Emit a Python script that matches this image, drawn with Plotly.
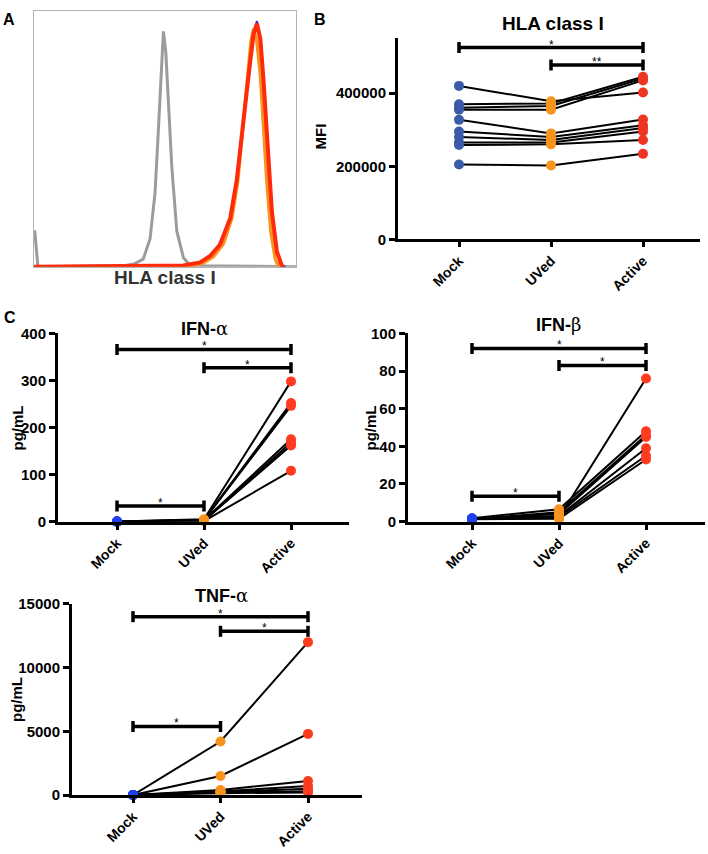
import plotly.graph_objects as go

W, H = 708, 854

def fx(p):
    return p / W

def fy(p):
    return 1 - p / H

FONT = "Liberation Sans, Arial, sans-serif"
categories = ["Mock", "UVed", "Active"]
cat_pos = [0, 1, 2]

# ---------------- Panel A: histogram overlay (normalised fluorescence / % of max)
gray_x = [0, 0.3, 1.5, 34.1, 37.9, 41.7, 44.3, 46.2, 47.4, 48.5, 49.4, 50.3, 51.3, 52.6, 54.5, 57.0, 59.6, 100]
gray_y = [14, 13.8, 0, 0.4, 1, 3, 11, 29, 52, 75, 92, 84, 65, 39, 14, 3.6, 0.4, 0]

blue_x = [0, 57.0, 63.4, 67.2, 71.0, 74.9, 77.4, 78.7, 80.6, 82.5, 83.8, 85.1, 86.4, 87.6, 88.9, 90.8, 92.7, 94.6, 96.0]
blue_y = [0, 0.5, 1.5, 4.0, 8.5, 19, 34, 47, 63, 80, 92, 96, 89, 72, 50, 21, 6, 0.4, 0]

orange_x = [0, 58.3, 64.7, 68.5, 72.3, 75.5, 77.7, 79.0, 80.6, 81.9, 82.8, 83.8, 85.1, 86.4, 87.6, 88.9, 90.4, 92.1, 93.4]
orange_y = [0, 0, 1.5, 4, 9, 19, 33, 46, 62, 78, 88, 93, 88, 75, 55, 33, 14, 3, 0]

red_x = [0, 57.0, 63.4, 67.2, 71.0, 74.9, 77.4, 78.7, 80.6, 82.5, 83.8, 85.1, 86.4, 87.6, 88.9, 90.8, 92.7, 94.6, 95.5]
red_y = [0, 0.5, 1.7, 4.2, 8.7, 19, 34, 47, 63, 80, 91, 95, 89, 73, 50, 21.5, 6, 0.4, 0]

# ---------------- Panel B: HLA class I MFI
hla_mock = [420000, 370000, 360000, 355000, 327000, 295000, 280000, 265000, 258000, 205000]
hla_uved = [378000, 372000, 365000, 355000, 290000, 280000, 272000, 265000, 260000, 202000]
hla_active = [402000, 445000, 440000, 435000, 328000, 312000, 305000, 295000, 272000, 234000]
hla_sig = [(0, 2, 525000, "*"), (1, 2, 477000, "**")]

# ---------------- Panel C: cytokines
ifna_mock = [0, 0, 0, 0, 0, 0, 0]
ifna_uved = [5, 4, 3, 3, 2, 2, 1]
ifna_active = [298, 252, 246, 175, 168, 162, 108]
ifna_sig = [(0, 2, 366, "*"), (1, 2, 327, "*"), (0, 1, 33, "*")]

ifnb_mock = [1.5, 1.8, 1.2, 1.6, 1.4, 1.5, 1.3]
ifnb_uved = [2.0, 6.5, 5.0, 4.0, 3.0, 2.5, 1.5]
ifnb_active = [76, 48, 46, 45, 39, 35, 33]
ifnb_sig = [(0, 2, 92, "*"), (1, 2, 83, "*"), (0, 1, 13.5, "*")]

tnf_mock = [0, 0, 0, 0, 0, 0, 0]
tnf_uved = [4200, 1500, 400, 300, 250, 200, 150]
tnf_active = [12000, 4800, 1100, 700, 500, 300, 200]
tnf_sig = [(0, 2, 14000, "*"), (1, 2, 12850, "*"), (0, 1, 5380, "*")]

fig = go.Figure()

# ---------- Panel A traces
for xs, ys, col, wd in [(gray_x, gray_y, "#9b9b9b", 3), (blue_x, blue_y, "#2a2ae0", 2),
                        (orange_x, orange_y, "#f7941d", 3.5), (red_x, red_y, "#ff2a0a", 4)]:
    fig.add_trace(go.Scatter(x=xs, y=ys, mode="lines", line=dict(color=col, width=wd),
                             xaxis="x", yaxis="y", showlegend=False, hoverinfo="skip"))

panels = [
    dict(key="2", mock=hla_mock, uved=hla_uved, active=hla_active, sig=hla_sig,
         blue="#3b5aa8", red="#ee3524", xl=398, x0=459, sp=92, xr=700, yb=235, yt=30, ymax=550000,
         tickvals=[0, 200000, 400000]),
    dict(key="3", mock=ifna_mock, uved=ifna_uved, active=ifna_active, sig=ifna_sig,
         blue="#1f3ff0", red="#ff3b1f", xl=58, x0=117, sp=87, xr=349, yb=523, yt=331, ymax=400,
         tickvals=[0, 100, 200, 300, 400]),
    dict(key="4", mock=ifnb_mock, uved=ifnb_uved, active=ifnb_active, sig=ifnb_sig,
         blue="#1f3ff0", red="#ff3b1f", xl=408, x0=472, sp=87, xr=705, yb=523, yt=331, ymax=100,
         tickvals=[0, 20, 40, 60, 80, 100]),
    dict(key="5", mock=tnf_mock, uved=tnf_uved, active=tnf_active, sig=tnf_sig,
         blue="#1f3ff0", red="#ff3b1f", xl=72, x0=133, sp=87.5, xr=362, yb=802, yt=607, ymax=15000,
         tickvals=[0, 5000, 10000, 15000]),
]

shapes = []
annotations = []
layout = dict(
    width=W, height=H, autosize=False,
    margin=dict(l=0, r=0, t=0, b=0),
    paper_bgcolor="white", plot_bgcolor="white",
    showlegend=False,
    font=dict(family=FONT, color="black"),
)

layout["xaxis"] = dict(domain=[fx(34), fx(296)], range=[0, 100], showline=True, mirror=True,
                       linecolor="#b3b3b3", linewidth=1, showgrid=False, zeroline=False,
                       showticklabels=False, ticks="", fixedrange=True)
layout["yaxis"] = dict(domain=[fy(263), fy(2)], range=[0, 100], showline=True, mirror=True,
                       linecolor="#b3b3b3", linewidth=1, showgrid=False, zeroline=False,
                       showticklabels=False, ticks="", fixedrange=True)

for p in panels:
    k = p["key"]
    xa, ya = "x" + k, "y" + k
    n = len(p["mock"])
    for i in range(n):
        fig.add_trace(go.Scatter(x=cat_pos, y=[p["mock"][i], p["uved"][i], p["active"][i]],
                                 mode="lines", line=dict(color="black", width=2),
                                 xaxis=xa, yaxis=ya, showlegend=False, hoverinfo="skip",
                                 cliponaxis=False))
    for ci, vals, col in [(0, p["mock"], p["blue"]), (1, p["uved"], "#f7941d"), (2, p["active"], p["red"])]:
        fig.add_trace(go.Scatter(x=[cat_pos[ci]] * len(vals), y=vals, mode="markers",
                                 marker=dict(color=col, size=10, line=dict(width=0)),
                                 xaxis=xa, yaxis=ya, showlegend=False, cliponaxis=False))
    xmin = (p["xl"] - p["x0"]) / p["sp"]
    xmax = (p["xr"] - p["x0"]) / p["sp"]
    layout["xaxis" + k] = dict(domain=[fx(p["xl"]), fx(p["xr"])], range=[xmin, xmax],
                               anchor=ya, showline=True, linecolor="black", linewidth=3,
                               showgrid=False, zeroline=False, ticks="outside", ticklen=5,
                               tickwidth=3, tickcolor="black", tickvals=cat_pos, ticktext=categories,
                               tickangle=-45, tickfont=dict(size=14, weight="bold", family=FONT),
                               fixedrange=True)
    layout["yaxis" + k] = dict(domain=[fy(p["yb"]), fy(p["yt"])], range=[0, p["ymax"]],
                               anchor=xa, showline=True, linecolor="black", linewidth=3,
                               showgrid=False, zeroline=False, ticks="outside", ticklen=6,
                               tickwidth=3, tickcolor="black", tickvals=p["tickvals"],
                               tickformat="d",
                               tickfont=dict(size=15, weight="bold", family=FONT),
                               fixedrange=True)
    for (a, b, lev, lab) in p["sig"]:
        shapes.append(dict(type="line", xref=xa, yref=ya, x0=cat_pos[a], x1=cat_pos[b],
                           y0=lev, y1=lev, line=dict(color="black", width=3.5)))
        for c in (a, b):
            shapes.append(dict(type="line", xref=xa, yref=ya, x0=cat_pos[c], x1=cat_pos[c],
                               ysizemode="pixel", yanchor=lev, y0=-5.5, y1=5.5,
                               line=dict(color="black", width=3.5)))
        annotations.append(dict(x=(cat_pos[a] + cat_pos[b]) / 2, y=lev, xref=xa, yref=ya,
                                text=lab, showarrow=False, yanchor="bottom", yshift=-4,
                                height=12, valign="top",
                                font=dict(size=12, family=FONT, color="black")))

layout["shapes"] = shapes

def txt(x, y, t, size, bold=True, angle=0, color="black"):
    annotations.append(dict(x=fx(x), y=fy(y), xref="paper", yref="paper", text=t,
                            showarrow=False, xanchor="center", yanchor="middle", textangle=angle,
                            font=dict(size=size, family=FONT, color=color,
                                      weight="bold" if bold else "normal")))

# panel letters
txt(9, 11, "A", 16)
txt(320, 11, "B", 16)
txt(10, 315, "C", 16)

# Panel A x label
txt(165, 274, "HLA class I", 19, color="#333333")

# Titles
txt(553, 15, "HLA class I", 19)
alpha = "<span style='font-weight:normal;font-family:DejaVu Serif'>α</span>"
beta = "<span style='font-weight:normal;font-family:DejaVu Serif'>β</span>"
txt(204, 326, "IFN-" + alpha, 18)
txt(558, 322, "IFN-" + beta, 18)
txt(221, 598, "TNF-" + alpha, 18)

# y labels
txt(320, 130, "MFI", 15, angle=-90)
txt(17, 428, "pg/mL", 15, angle=-90)
txt(370, 428, "pg/mL", 15, angle=-90)
txt(17, 705, "pg/mL", 15, angle=-90)

layout["annotations"] = annotations
fig.update_layout(**layout)

fig.write_html("out.html",
               config={"displayModeBar": False},
               post_script="document.body.style.margin='0';document.body.style.padding='0';"
                           "document.body.style.overflow='hidden';")
